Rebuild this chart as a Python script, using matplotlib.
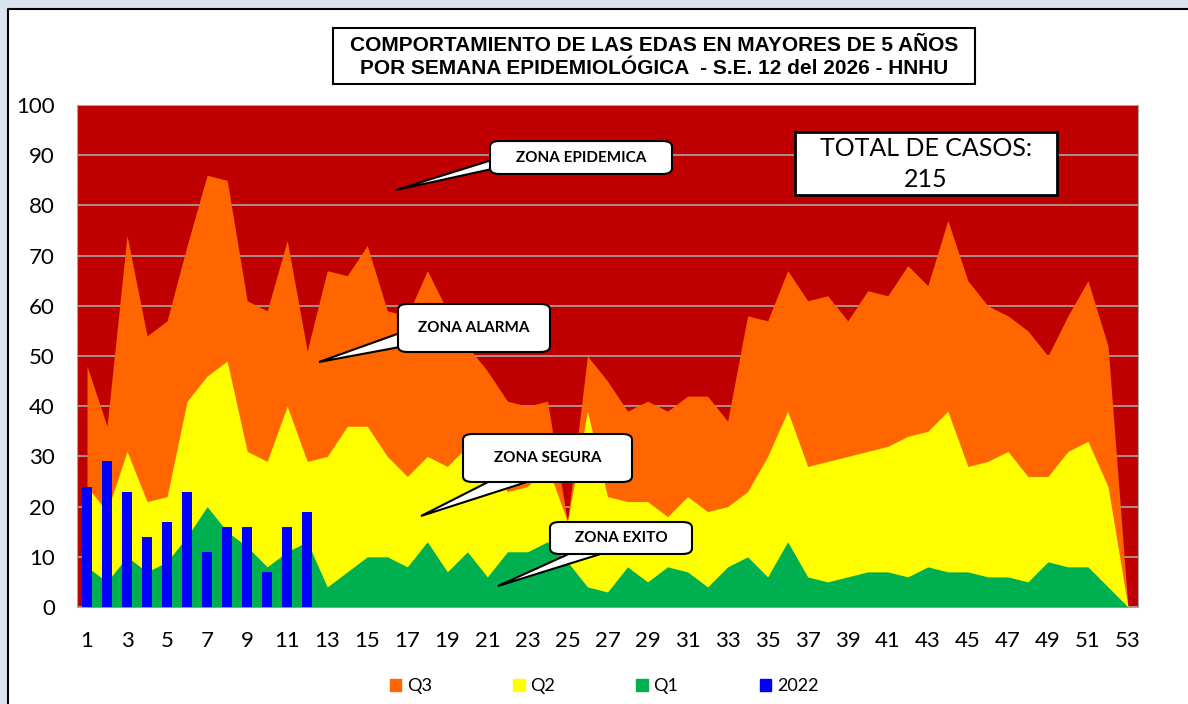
import matplotlib
matplotlib.use('Agg')
import matplotlib.pyplot as plt
from matplotlib.patches import FancyBboxPatch, Polygon, Rectangle, Patch

plt.rcParams['font.family'] = ['Lato', 'DejaVu Sans']

# semanas epidemiologicas
weeks = list(range(1, 54))

q3 = [48, 36, 74, 54, 57, 72, 86, 85, 61, 59, 73, 51, 67, 66, 72, 59, 58, 67, 59, 52,
      47, 41, 40, 41, 17, 50, 45, 39, 41, 39, 42, 42, 37, 58, 57, 67, 61, 62, 57, 63,
      62, 68, 64, 77, 65, 60, 58, 55, 50, 58, 65, 52, 0]
q2 = [24, 19, 31, 21, 22, 41, 46, 49, 31, 29, 40, 29, 30, 36, 36, 30, 26, 30, 28, 32,
      28, 23, 24, 28, 17, 39, 22, 21, 21, 18, 22, 19, 20, 23, 30, 39, 28, 29, 30, 31,
      32, 34, 35, 39, 28, 29, 31, 26, 26, 31, 33, 24, 0]
q1 = [8, 5, 10, 7, 9, 14, 20, 15, 12, 8, 11, 13, 4, 7, 10, 10, 8, 13, 7, 11,
      6, 11, 11, 13, 9, 4, 3, 8, 5, 8, 7, 4, 8, 10, 6, 13, 6, 5, 6, 7,
      7, 6, 8, 7, 7, 6, 6, 5, 9, 8, 8, 4, 0]

weeks_2022 = list(range(1, 13))
cases_2022 = [24, 29, 23, 14, 17, 23, 11, 16, 16, 7, 16, 19]

title_lines = ['COMPORTAMIENTO DE LAS EDAS EN MAYORES DE 5 AÑOS',
               'POR SEMANA EPIDEMIOLÓGICA  - S.E. 12 del 2026 - HNHU']

W, H = 1188, 704
fig = plt.figure(figsize=(W / 100, H / 100), dpi=100)
fig.patch.set_facecolor('#DCE3F0')


def px(x, y):
    return (x / W, 1 - y / H)


# white panel with black top/left edge
fig.add_artist(Rectangle(px(8, 704), (W - 8) / W, (704 - 9) / H, transform=fig.transFigure,
                         facecolor='white', edgecolor='none', zorder=0))
fig.add_artist(plt.Line2D([8 / W, 8 / W, 1], [0, 1 - 9 / H, 1 - 9 / H], transform=fig.transFigure,
                          color='black', lw=1.5, zorder=1))

ax = fig.add_axes([77 / W, 1 - 607 / H, (1138 - 77) / W, (607 - 105) / H])
ax.set_facecolor('#C00000')
ax.set_axisbelow(True)
ax.grid(axis='y', color='#A6A6A6', lw=1.2)

ax.fill_between(weeks, q3, color='#FF6600', lw=0, zorder=2, label='Q3')
ax.fill_between(weeks, q2, color='#FFFF00', lw=0, zorder=3, label='Q2')
ax.fill_between(weeks, q1, color='#00B050', lw=0, zorder=4, label='Q1')
ax.bar(weeks_2022, cases_2022, width=0.5, color='#0000FF', zorder=5, label='2022')

ax.set_xlim(0.5, 53.5)
ax.set_ylim(0, 100)
ax.set_yticks(range(0, 101, 10))
ax.set_xticks(range(1, 54, 2))
ax.tick_params(length=0, labelsize=16)
ax.tick_params(axis='y', pad=16)
ax.tick_params(axis='x', pad=17)
for s in ax.spines.values():
    s.set_color('#A6A6A6')

# title box
fig.add_artist(Rectangle(px(333, 84), (975 - 333) / W, (84 - 28) / H, transform=fig.transFigure,
                         facecolor='white', edgecolor='black', lw=1.5))
fig.text(654 / W, 1 - 57 / H, '\n'.join(title_lines), ha='center', va='center',
         fontsize=15, fontweight='bold', family=['Liberation Sans Narrow', 'Liberation Sans', 'DejaVu Sans'],
         linespacing=1.3)

# total box
fig.add_artist(Rectangle(px(795, 195), (1057 - 795) / W, (195 - 132) / H, transform=fig.transFigure,
                         facecolor='white', edgecolor='black', lw=2, zorder=6))
fig.text(926 / W, 1 - 164 / H, 'TOTAL DE CASOS:\n%d' % sum(cases_2022), ha='center', va='center',
         fontsize=18, linespacing=1.4, zorder=7)


def callout(text, x0, y0, x1, y1, base, tip):
    poly = Polygon([px(*base[0]), px(*tip), px(*base[1])], closed=True, transform=fig.transFigure,
                   facecolor='white', edgecolor='black', lw=1.5, zorder=8)
    fig.add_artist(poly)
    box = FancyBboxPatch(px(x0, y1), (x1 - x0) / W, (y1 - y0) / H,
                         boxstyle='round,pad=0,rounding_size=0.008', transform=fig.transFigure,
                         facecolor='white', edgecolor='black', lw=1.5, zorder=9)
    fig.add_artist(box)
    fig.text((x0 + x1) / 2 / W, 1 - (y0 + y1) / 2 / H, text, ha='center', va='center',
             fontsize=11, fontweight='bold', zorder=10)


callout('ZONA EPIDEMICA', 490, 141, 672, 174, [(492, 160), (492, 169)], (396, 190))
callout('ZONA ALARMA', 398, 304, 550, 352, [(400, 333), (400, 347)], (319, 362))
callout('ZONA SEGURA', 463, 434, 632, 482, [(492, 480), (533, 480)], (421, 516))
callout('ZONA EXITO', 550, 522, 692, 554, [(573, 552), (607, 552)], (498, 586))

handles = [Patch(color='#FF6600'), Patch(color='#FFFF00'), Patch(color='#00B050'), Patch(color='#0000FF')]
fig.legend(handles, ['Q3', 'Q2', 'Q1', '2022'], loc='center', bbox_to_anchor=(604 / W, 1 - 686 / H),
           ncol=4, frameon=False, fontsize=13, handlelength=0.65, handleheight=0.65,
           handletextpad=0.3, columnspacing=4.5)

fig.savefig('out.png', dpi=100, facecolor=fig.get_facecolor())
